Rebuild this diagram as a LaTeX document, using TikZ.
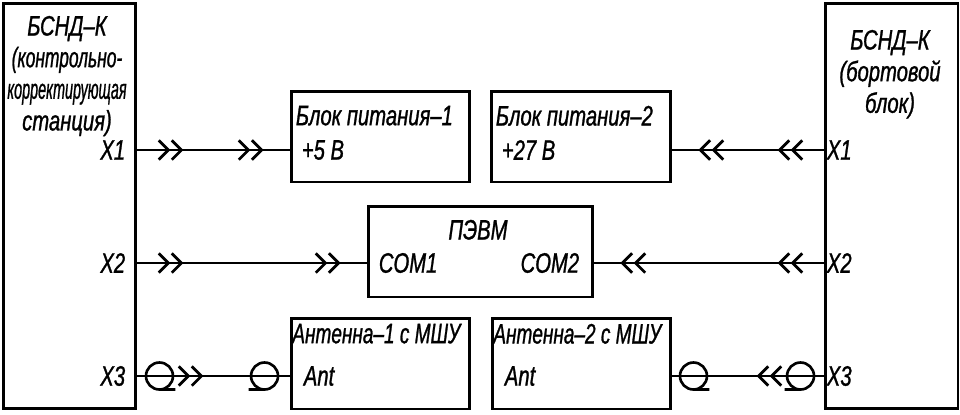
\documentclass[tikz,border=0pt]{standalone}
\usepackage{fontspec}
\usepackage{graphicx}
\setmainfont{Liberation Sans}[FakeStretch=0.72, FakeBold=1]
\usetikzlibrary{arrows.meta, decorations.markings}
\tikzset{chev/.tip={Straight Barb[length=5.5pt,width=11pt] Straight Barb[length=5.5pt,width=11pt]}}
\tikzstyle{blok} = [rectangle, draw=black, line width=1.7pt, inner sep=0pt]
\tikzstyle{txt} = [inner sep=0pt, font=\fontsize{16}{18}\selectfont\itshape]
\tikzstyle{line} = [line width=1.6pt]
\tikzstyle{dvoyn} = [line, postaction={decorate}, decoration={markings,
  mark=at position 0.92cm with {\arrow{chev}},
  mark=at position -0.52cm with {\arrow{chev}}}]
\tikzstyle{koaksL} = [line, postaction={decorate}, decoration={markings,
  mark=at position 0.44cm with {\draw[line width=1.5pt] (0,0) circle (0.27cm) (0,-0.27cm) -- (0.32cm,-0.27cm);},
  mark=at position 1.32cm with {\arrow{chev}},
  mark=at position -0.5cm with {\draw[line width=1.5pt] (0,0) circle (0.27cm) (0,-0.27cm) -- (-0.32cm,-0.27cm);}}]
\tikzstyle{koaksR} = [line, postaction={decorate}, decoration={markings,
  mark=at position 0.42cm with {\draw[line width=1.5pt] (0,0) circle (0.27cm) (0,-0.27cm) -- (0.32cm,-0.27cm);},
  mark=at position -1.34cm with {\arrowreversed{chev}},
  mark=at position -0.46cm with {\draw[line width=1.5pt] (0,0) circle (0.27cm) (0,-0.27cm) -- (-0.32cm,-0.27cm);}}]

\begin{document}
\begin{tikzpicture}[x=0.02cm, y=-0.02cm]
\useasboundingbox (0,0) rectangle (960,414);
\coordinate (r1) at (0,150);
\coordinate (r2) at (0,263);
\coordinate (r3) at (0,376);

% blocks
\node (kks) [blok, minimum width=2.66cm, minimum height=8.12cm] at (69.5,206) {};
\node (bort) [blok, minimum width=2.66cm, minimum height=8.12cm] at (891.5,206) {};
\node (bp1) [blok, minimum width=3.58cm, minimum height=1.82cm] at (380.5,136.5) {};
\node (bp2) [blok, minimum width=3.6cm, minimum height=1.82cm] at (581,136.5) {};
\node (pevm) [blok, minimum width=4.5cm, minimum height=1.82cm] at (480.5,251.5) {};
\node (ant1) [blok, minimum width=3.58cm, minimum height=1.82cm] at (380.5,363.5) {};
\node (ant2) [blok, minimum width=3.58cm, minimum height=1.82cm] at (581.5,363.5) {};

% texts
\node (kksT) [txt, align=center, anchor=north, xshift=-0.05cm, yshift=-0.28cm] at (kks.north) {БСНД–К\\\scalebox{0.86}[1]{(контрольно-}\\\scalebox{0.71}[1]{корректирующая}\\станция)};
\node (bortT) [txt, align=center, anchor=north, xshift=-0.03cm, yshift=-0.56cm] at (bort.north) {БСНД–К\\(бортовой\\блок)};
\node (kx1) [txt, anchor=east, xshift=-0.24cm] at (kks.east |- r1) {X1};
\node (kx2) [txt, anchor=east, xshift=-0.24cm] at (kks.east |- r2) {X2};
\node (kx3) [txt, anchor=east, xshift=-0.24cm] at (kks.east |- r3) {X3};
\node (bx1) [txt, anchor=west, xshift=0.06cm] at (bort.west |- r1) {X1};
\node (bx2) [txt, anchor=west, xshift=0.06cm] at (bort.west |- r2) {X2};
\node (bx3) [txt, anchor=west, xshift=0.06cm] at (bort.west |- r3) {X3};
\node (bp1T) [txt, anchor=north west, xshift=0.12cm, yshift=-0.32cm] at (bp1.north west) {Блок питания–1};
\node (bp1U) [txt, anchor=west, xshift=0.24cm] at (bp1.west |- r1) {+5 В};
\node (bp2T) [txt, anchor=north west, xshift=0.12cm, yshift=-0.32cm] at (bp2.north west) {Блок питания–2};
\node (bp2U) [txt, anchor=west, xshift=0.24cm] at (bp2.west |- r1) {+27 В};
\node (pevmT) [txt, anchor=north, xshift=-0.05cm, yshift=-0.3cm] at (pevm.north) {ПЭВМ};
\node (com1) [txt, anchor=west, xshift=0.24cm] at (pevm.west |- r2) {COM1};
\node (com2) [txt, anchor=east, xshift=-0.3cm] at (pevm.east |- r2) {COM2};
\node (ant1T) [txt, anchor=north west, xshift=0.05cm, yshift=-0.14cm] at (ant1.north west) {\scalebox{0.94}[1]{Антенна–1 с МШУ}};
\node (ant1A) [txt, anchor=west, xshift=0.28cm] at (ant1.west |- r3) {Ant};
\node (ant2T) [txt, anchor=north west, xshift=0.05cm, yshift=-0.14cm] at (ant2.north west) {\scalebox{0.94}[1]{Антенна–2 с МШУ}};
\node (ant2A) [txt, anchor=west, xshift=0.28cm] at (ant2.west |- r3) {Ant};

% links
\draw [dvoyn] (kks.east |- r1) -- (bp1.west |- r1);
\draw [dvoyn] (bort.west |- r1) -- (bp2.east |- r1);
\draw [dvoyn] (kks.east |- r2) -- (pevm.west |- r2);
\draw [dvoyn] (bort.west |- r2) -- (pevm.east |- r2);
\draw [koaksL] (kks.east |- r3) -- (ant1.west |- r3);
\draw [koaksR] (ant2.east |- r3) -- (bort.west |- r3);

\end{tikzpicture}
\end{document}
